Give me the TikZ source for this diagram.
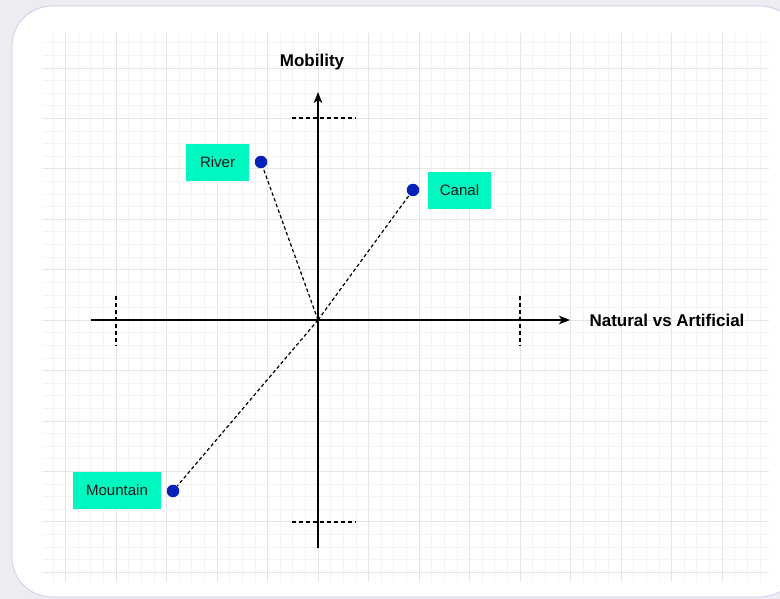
\documentclass[tikz,border=0pt]{standalone}
\usepackage{fontspec}
\setmainfont{Liberation Sans}
\usetikzlibrary{arrows.meta}
\definecolor{pagebg}{HTML}{EDEDF1}
\definecolor{cardedge}{HTML}{C9CBEF}
\definecolor{gridminor}{HTML}{F3F3F3}
\definecolor{gridmajor}{HTML}{E5E5E5}
\definecolor{dotblue}{HTML}{0620B8}
\definecolor{labelgreen}{HTML}{00F8C0}
\tikzset{
  axis/.style={line width=1.3pt, -{Stealth[length=11pt,width=8.5pt,inset=3pt]}},
  tickline/.style={line width=1.2pt, dash pattern=on 4pt off 3pt},
  linkline/.style={line width=1.2pt, dash pattern=on 3.5pt off 2.5pt},
  pointdot/.style={circle, fill=dotblue, inner sep=0pt, minimum size=12.5pt},
  tag/.style={rectangle, fill=labelgreen, inner sep=0pt, font=\fontsize{15}{18}\selectfont, text=black!90},
  axislabel/.style={font=\bfseries\fontsize{17}{20}\selectfont}
}
\begin{document}
\begin{tikzpicture}[x=1pt,y=-1pt]
\useasboundingbox (0,0) rectangle (780,599);
\fill[pagebg] (0,0) rectangle (780,599);
\draw[cardedge, fill=white, line width=0.8pt, rounded corners=40pt] (12,6) rectangle (800,597);
% grid
\foreach \k in {-21,...,35}{
  \pgfmathtruncatemacro{\m}{mod(\k+100,4)}
  \ifnum\m=0 \draw[gridmajor, line width=0.6pt] ({318+12.625*\k},33) -- ({318+12.625*\k},582);
  \else \draw[gridminor, line width=0.6pt] ({318+12.625*\k},33) -- ({318+12.625*\k},582); \fi
}
\foreach \k in {-22,...,20}{
  \pgfmathtruncatemacro{\m}{mod(\k+100,4)}
  \ifnum\m=0 \draw[gridmajor, line width=0.6pt] (43,{320+12.6*\k}) -- (769,{320+12.6*\k});
  \else \draw[gridminor, line width=0.6pt] (43,{320+12.6*\k}) -- (769,{320+12.6*\k}); \fi
}
% axes
\coordinate (O) at (318,320);
\coordinate (xl) at (91,320);
\coordinate (xr) at (570,320);
\coordinate (yb) at (318,548);
\coordinate (yt) at (318,92);
\draw[axis] (xl) -- (xr);
\draw[axis] (yb) -- (yt);
\node[axislabel, anchor=west] (xlab) at (586,320) {Natural vs Artificial};
\node[axislabel] (ylab) at (312,62) {Mobility};
% ticks
\coordinate (t1a) at (116,296); \coordinate (t1b) at (116,346);
\coordinate (t2a) at (520,296); \coordinate (t2b) at (520,346);
\coordinate (t3a) at (292,118); \coordinate (t3b) at (356,118);
\coordinate (t4a) at (292,522); \coordinate (t4b) at (356,522);
\draw[tickline] (t1a) -- (t1b);
\draw[tickline] (t2a) -- (t2b);
\draw[tickline] (t3a) -- (t3b);
\draw[tickline] (t4a) -- (t4b);
% points
\node[pointdot] (river) at (261,162) {};
\node[pointdot] (canal) at (413,190) {};
\node[pointdot] (mountain) at (173,491) {};
\draw[linkline] (O) -- (river);
\draw[linkline] (O) -- (canal);
\draw[linkline] (O) -- (mountain);
% labels
\node[tag, minimum width=63pt, minimum height=37pt] (riverlab) at (217.5,162.5) {River};
\node[tag, minimum width=63pt, minimum height=37pt] (canallab) at (459.5,190.5) {Canal};
\node[tag, minimum width=88pt, minimum height=37pt] (mountainlab) at (117,490.5) {Mountain};
\end{tikzpicture}
\end{document}
